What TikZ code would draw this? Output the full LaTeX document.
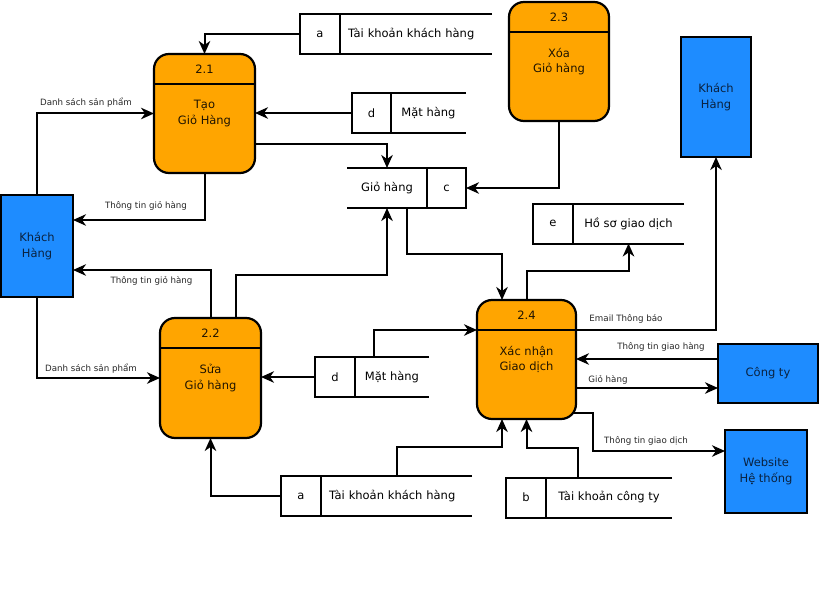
\documentclass[tikz,border=0pt]{standalone}
\usepackage{fontspec}
\setmainfont{DejaVu Sans}
\usetikzlibrary{arrows.meta}

\definecolor{procfill}{HTML}{FFA500}
\definecolor{entfill}{HTML}{1E8CFF}
\definecolor{enttext}{HTML}{0A2240}
\definecolor{proctext}{HTML}{201400}

\tikzset{
  base/.style={inner sep=0pt, outer sep=0pt, align=center},
  mainfont/.style={font=\fontsize{11.5}{15.5}\selectfont},
  proc/.style={base, mainfont, draw, fill=procfill, line width=2.2pt,
    rounded corners=15pt, text=proctext},
  procnum/.style={base, mainfont, text=proctext},
  ent/.style={base, mainfont, draw, fill=entfill, line width=2.2pt, text=enttext},
  cell/.style={base, mainfont, minimum height=40pt},
  namecell/.style={cell, align=left, inner xsep=8pt},
  storeline/.style={line width=2pt},
  flow/.style={line width=2pt, -{Stealth[length=13pt,width=11.5pt,inset=4pt]}},
  flowlabel/.style={base, font=\fontsize{8.7}{10}\selectfont, text=black!85},
}

\begin{document}
\begin{tikzpicture}[x=1pt,y=-1pt]
\useasboundingbox (0,0) rectangle (820,594);

% ---------- external entities ----------
\node[ent, minimum width=72pt, minimum height=102pt] (kh1) at (37,246) {Khách\\Hàng};
\node[ent, minimum width=70pt, minimum height=120pt] (kh2) at (716,97) {Khách\\Hàng};
\node[ent, minimum width=100pt, minimum height=59pt] (cty) at (768,373.5) {Công ty};
\node[ent, minimum width=82pt, minimum height=83pt] (web) at (766,471.5) {Website\\Hệ thống};

% ---------- processes ----------
\node[proc, minimum width=101pt, minimum height=119pt] (p21) at (204.5,113.5) {Tạo\\Giỏ Hàng};
\node[proc, minimum width=100pt, minimum height=119pt] (p23) at (559,61.5) {Xóa\\Giỏ hàng};
\node[proc, minimum width=101pt, minimum height=120pt] (p22) at (210.5,378) {Sửa\\Giỏ hàng};
\node[proc, minimum width=99pt, minimum height=119pt] (p24) at (526.5,359.5) {Xác nhận\\Giao dịch};

\foreach \p/\n in {p21/2.1, p23/2.3, p22/2.2, p24/2.4}{
  \draw[line width=2pt] ([yshift=-30pt]\p.north west) -- ([yshift=-30pt]\p.north east);
  \node[procnum] (\p num) at ([yshift=-15pt]\p.north) {\n};
}

% ---------- data stores ----------
% a: Tài khoản khách hàng (top)
\node[cell, minimum width=40pt] (sa1id) at (320,34) {a};
\node[namecell, text width=136pt, minimum width=152pt] (sa1name) at (416,34) {Tài khoản khách hàng};
\draw[storeline] (sa1name.north east) -- (sa1id.north west) -- (sa1id.south west) -- (sa1name.south east)
  (sa1id.north east) -- (sa1id.south east);

% d: Mặt hàng (top)
\node[cell, minimum width=39pt] (sd1id) at (371.5,113) {d};
\node[cell, minimum width=75pt] (sd1name) at (428.5,113) {Mặt hàng};
\draw[storeline] (sd1name.north east) -- (sd1id.north west) -- (sd1id.south west) -- (sd1name.south east)
  (sd1id.north east) -- (sd1id.south east);

% c: Giỏ hàng
\node[cell, minimum width=80pt] (scname) at (387,188) {Giỏ hàng};
\node[cell, minimum width=39pt] (scid) at (446.5,188) {c};
\draw[storeline] (scname.north west) -- (scid.north east) -- (scid.south east) -- (scname.south west)
  (scname.north east) -- (scname.south east);

% e: Hồ sơ giao dịch
\node[cell, minimum width=40pt] (seid) at (553,223.5) {e};
\node[cell, minimum width=111pt] (sename) at (628.5,223.5) {Hồ sơ giao dịch};
\draw[storeline] (sename.north east) -- (seid.north west) -- (seid.south west) -- (sename.south east)
  (seid.north east) -- (seid.south east);

% d: Mặt hàng (middle)
\node[cell, minimum width=40pt] (sd2id) at (335,377) {d};
\node[cell, minimum width=74pt] (sd2name) at (392,377) {Mặt hàng};
\draw[storeline] (sd2name.north east) -- (sd2id.north west) -- (sd2id.south west) -- (sd2name.south east)
  (sd2id.north east) -- (sd2id.south east);

% a: Tài khoản khách hàng (bottom)
\node[cell, minimum width=40pt] (sa2id) at (301,496) {a};
\node[namecell, text width=135pt, minimum width=151pt] (sa2name) at (396.5,496) {Tài khoản khách hàng};
\draw[storeline] (sa2name.north east) -- (sa2id.north west) -- (sa2id.south west) -- (sa2name.south east)
  (sa2id.north east) -- (sa2id.south east);

% b: Tài khoản công ty
\node[cell, minimum width=40pt] (sbid) at (526,497.5) {b};
\node[cell, minimum width=126pt] (sbname) at (609,497.5) {Tài khoản công ty};
\draw[storeline] (sbname.north east) -- (sbid.north west) -- (sbid.south west) -- (sbname.south east)
  (sbid.north east) -- (sbid.south east);

% ---------- data flows ----------
\draw[flow] (sa1id.west) -| (p21.north);
\draw[flow] (kh1.north) |- (p21.west);
\draw[flow] (p21.south) |- ([yshift=26pt]kh1.east);
\draw[flow] (sd1id.west) -- (sd1id.west -| p21.east);
\draw[flow] ([yshift=-30.5pt]p21.east) -| (scname.north);
\draw[flow] (p23.south) |- (scid.east);

\draw[flow] ([xshift=25pt]p22.north) -- ++(0,-43) -| (scname.south);
\draw[flow] (p22.north) |- ([yshift=-24pt]kh1.east);
\draw[flow] (kh1.south) |- (p22.west);
\draw[flow] (sd2id.west) -- (sd2id.west -| p22.east);
\draw[flow] (sa2id.west) -| (p22.south);

\draw[flow] ([xshift=-18pt]sd2name.north) |- ([yshift=29.5pt]p24.west);
\draw[flow] ([xshift=20pt]scname.south) -- ++(0,46) -| ([xshift=-24.5pt]p24.north);
\draw[flow] (p24.north) -- ++(0,-29) -| (sename.south);
\draw[flow] ([yshift=29.5pt]p24.east) -| (kh2.south);
\path ([yshift=14.5pt]cty.west) coordinate (ctyout) ([yshift=-14.5pt]cty.west) coordinate (ctyin);
\draw[flow] (ctyout) -- (ctyout -| p24.east);
\draw[flow] (ctyin -| p24.east) -- (ctyin);
\draw[flow] ([xshift=-3pt,yshift=-53.5pt]p24.east) -- ++(20,0) |- ([yshift=20.5pt]web.west);
\draw[flow] (sa2name.north) -- ++(0,-29) -| ([xshift=-24.5pt]p24.south);
\draw[flow] ([xshift=-31pt]sbname.north) -- ++(0,-30) -| (p24.south);

% ---------- flow labels ----------
\node[flowlabel] (lab1) at (86,103) {Danh sách sản phẩm};
\node[flowlabel] (lab2) at (146,206) {Thông tin giỏ hàng};
\node[flowlabel] (lab3) at (151.5,281) {Thông tin giỏ hàng};
\node[flowlabel] (lab4) at (91,368.5) {Danh sách sản phẩm};
\node[flowlabel] (lab5) at (626,319) {Email Thông báo};
\node[flowlabel] (lab6) at (661,346.5) {Thông tin giao hàng};
\node[flowlabel] (lab7) at (608,379.5) {Giỏ hàng};
\node[flowlabel] (lab8) at (646,441) {Thông tin giao dịch};
\end{tikzpicture}
\end{document}
